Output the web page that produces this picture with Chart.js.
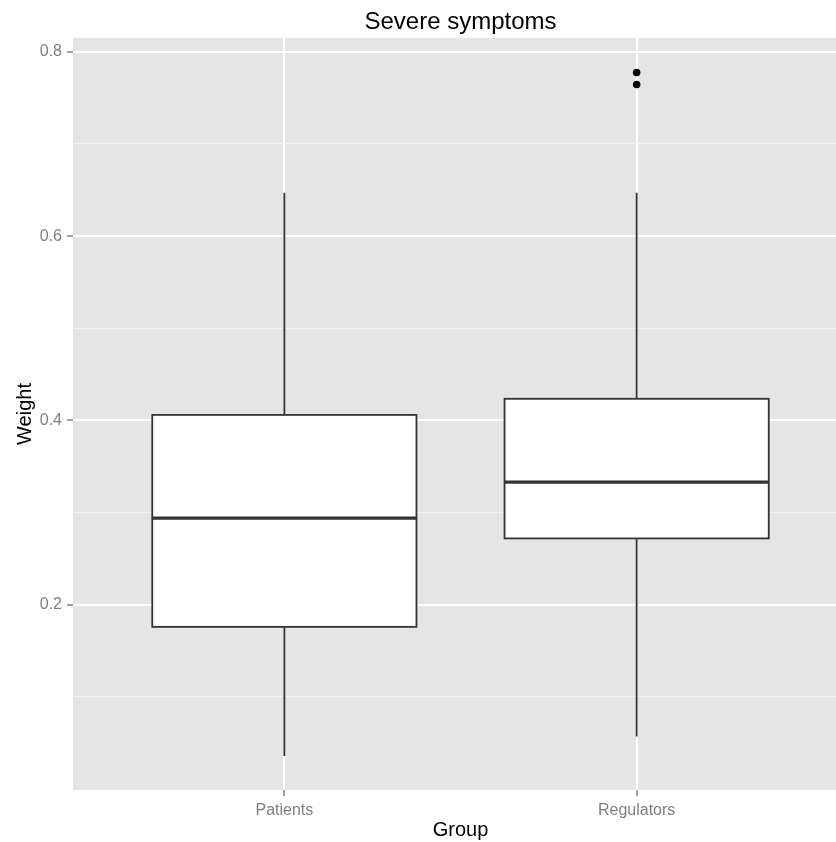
<!DOCTYPE html>
<html>
<head>
<meta charset="utf-8">
<title>Severe symptoms</title>
<script src="https://cdn.jsdelivr.net/npm/chart.js@4/dist/chart.umd.min.js"></script>
<style>
  html, body { margin: 0; padding: 0; background: #ffffff; overflow: hidden; }
  #wrap { position: absolute; left: 0; top: 0; width: 858px; height: 842px; }
</style>
</head>
<body>
<div id="wrap"><canvas id="chart" width="858" height="842"></canvas></div>
<script>
// Groups on the x axis
const groups = ['Patients', 'Regulators'];

// Box-plot summary per group
const whiskerLow  = [0.036, 0.057];
const q1          = [0.176, 0.272];
const median      = [0.294, 0.333];
const q3          = [0.406, 0.4235];
const whiskerHigh = [0.647, 0.647];
const outliers    = [[], [0.7775, 0.7645]];

// Y axis ticks: labelled (major) and unlabelled (minor) grid lines
const yMajorTicks = [0.2, 0.4, 0.6, 0.8];
const yMinorTicks = [0.1, 0.3, 0.5, 0.7];

const isMajor = v => yMajorTicks.some(m => Math.abs(m - v) < 1e-9);

const outlierPoints = [];
outliers.forEach((vals, i) => vals.forEach(v => outlierPoints.push({ x: i + 1, y: v })));

const FONT = "'Liberation Sans', Arial, sans-serif";
const BOX_WIDTH = 0.75;

// Grey panel behind the grid
const panelBackground = {
  id: 'panelBackground',
  beforeDraw(chart) {
    const { ctx, chartArea: a } = chart;
    ctx.save();
    ctx.fillStyle = '#e5e5e5';
    ctx.fillRect(a.left, a.top, a.right - a.left, a.bottom - a.top);
    ctx.restore();
  }
};

// Boxes, medians and whiskers drawn through the chart scales
const boxPlot = {
  id: 'boxPlot',
  beforeDatasetsDraw(chart) {
    const { ctx, scales: { x, y } } = chart;
    ctx.save();
    ctx.strokeStyle = '#333333';
    groups.forEach((g, i) => {
      const cx = x.getPixelForValue(i + 1);
      const l = x.getPixelForValue(i + 1 - BOX_WIDTH / 2);
      const r = x.getPixelForValue(i + 1 + BOX_WIDTH / 2);
      const yLo = y.getPixelForValue(whiskerLow[i]);
      const yQ1 = y.getPixelForValue(q1[i]);
      const yMed = y.getPixelForValue(median[i]);
      const yQ3 = y.getPixelForValue(q3[i]);
      const yHi = y.getPixelForValue(whiskerHigh[i]);

      ctx.lineWidth = 1.8;
      ctx.beginPath();
      ctx.moveTo(cx, yLo); ctx.lineTo(cx, yQ1);
      ctx.moveTo(cx, yQ3); ctx.lineTo(cx, yHi);
      ctx.stroke();

      ctx.fillStyle = '#ffffff';
      ctx.fillRect(l, yQ3, r - l, yQ1 - yQ3);
      ctx.strokeRect(l, yQ3, r - l, yQ1 - yQ3);

      ctx.lineWidth = 3.2;
      ctx.beginPath();
      ctx.moveTo(l, yMed); ctx.lineTo(r, yMed);
      ctx.stroke();
    });
    ctx.restore();
  }
};

new Chart(document.getElementById('chart'), {
  type: 'scatter',
  data: {
    datasets: [{
      label: 'Outliers',
      data: outlierPoints,
      backgroundColor: '#000000',
      borderWidth: 0,
      pointRadius: 3.8
    }]
  },
  options: {
    responsive: false,
    animation: false,
    layout: { padding: { left: 0, right: 10, top: 0, bottom: 0 } },
    plugins: {
      legend: { display: false },
      tooltip: { enabled: false },
      title: {
        display: true,
        text: 'Severe symptoms',
        color: '#000000',
        fullSize: false,
        font: { family: FONT, size: 24, weight: 'normal' },
        padding: { top: 8, bottom: 1.2 }
      }
    },
    scales: {
      x: {
        type: 'linear',
        min: 0.4,
        max: 2.6,
        afterBuildTicks(scale) {
          scale.ticks = groups.map((g, i) => ({ value: i + 1 }));
        },
        afterFit(scale) { scale.height = 52; },
        border: { display: false },
        grid: {
          color: '#ffffff',
          lineWidth: 2,
          drawTicks: true,
          tickLength: 6,
          tickColor: '#7f7f7f',
          tickWidth: 1.5
        },
        ticks: {
          color: '#7f7f7f',
          padding: 5,
          font: { family: FONT, size: 16 },
          callback: v => groups[Math.round(v) - 1] || ''
        },
        title: {
          display: true,
          text: 'Group',
          color: '#000000',
          font: { family: FONT, size: 20 },
          padding: { top: 0, bottom: 0 }
        }
      },
      y: {
        type: 'linear',
        min: -0.001,
        max: 0.815,
        afterBuildTicks(scale) {
          scale.ticks = yMinorTicks.concat(yMajorTicks)
            .sort((a, b) => a - b)
            .map(v => ({ value: v }));
        },
        afterFit(scale) { scale.width = 73; },
        border: { display: false },
        grid: {
          color: ctx => isMajor(ctx.tick.value) ? '#ffffff' : '#f2f2f2',
          lineWidth: ctx => isMajor(ctx.tick.value) ? 2 : 1,
          drawTicks: true,
          tickLength: 6,
          tickColor: ctx => isMajor(ctx.tick.value) ? '#7f7f7f' : 'rgba(0,0,0,0)',
          tickWidth: 1.5
        },
        ticks: {
          color: '#7f7f7f',
          padding: 5,
          autoSkip: false,
          font: { family: FONT, size: 16 },
          callback: v => isMajor(v) ? v.toFixed(1) : ''
        },
        title: {
          display: true,
          text: 'Weight',
          color: '#000000',
          font: { family: FONT, size: 20 },
          padding: { top: 13, bottom: 0 }
        }
      }
    }
  },
  plugins: [panelBackground, boxPlot]
});
</script>
</body>
</html>
